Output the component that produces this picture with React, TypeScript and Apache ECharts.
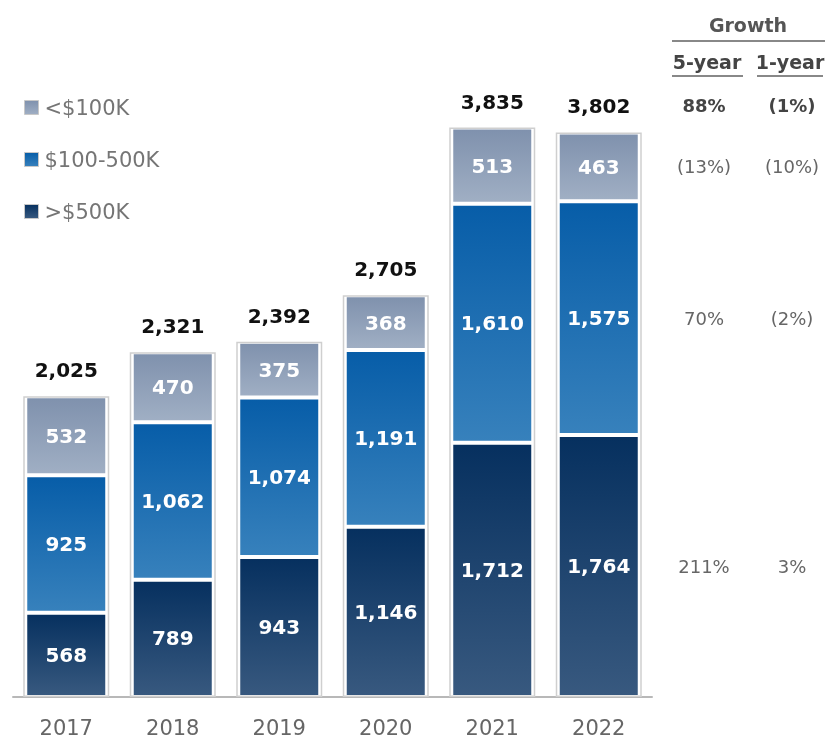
import React, { useEffect, useRef } from "react";
import * as echarts from "echarts";

const years = ["2017", "2018", "2019", "2020", "2021", "2022"];
const under100K = [532, 470, 375, 368, 513, 463];
const mid100to500K = [925, 1062, 1074, 1191, 1610, 1575];
const over500K = [568, 789, 943, 1146, 1712, 1764];
const totals = [2025, 2321, 2392, 2705, 3835, 3802];
const growthHeaders = ["5-year", "1-year"];
const growth5yr = ["88%", "(13%)", "70%", "211%"];
const growth1yr = ["(1%)", "(10%)", "(2%)", "3%"];

const FONT = "DejaVu Sans";

const grad = (top: string, bottom: string) =>
  new echarts.graphic.LinearGradient(0, 0, 0, 1, [
    { offset: 0, color: top },
    { offset: 1, color: bottom },
  ]);

const fmt = (v: number) => v.toLocaleString("en-US");

export default function App() {
  const ref = useRef<HTMLDivElement>(null);
  useEffect(() => {
    if (!ref.current) return;
    const chart = echarts.init(ref.current, undefined, { renderer: "svg" });
    const segLabel = {
      show: true,
      position: "inside" as const,
      color: "#fff",
      fontFamily: FONT,
      fontWeight: "bold" as const,
      fontSize: 20,
      formatter: (p: any) => fmt(p.value),
    };
    const segStyle = (c: any) => ({ color: c, borderColor: "#fff", borderWidth: 2 });
    const option: any = {
      animation: false,
      textStyle: { fontFamily: FONT },
      grid: { left: 13, right: 173, top: 103, bottom: 43 },
      legend: {
        orient: "vertical",
        left: 19,
        top: 92,
        itemGap: 31,
        itemWidth: 14,
        itemHeight: 14,
        icon: "rect",
        data: ["<$100K", "$100-500K", ">$500K"],
        textStyle: { color: "#757575", fontSize: 21, fontFamily: FONT, padding: [0, 0, 0, 1] },
        itemStyle: { borderColor: "#c8c8c8", borderWidth: 1 },
      },
      xAxis: [
        {
          type: "category",
          data: years,
          axisLine: { lineStyle: { color: "#b8b8b8", width: 2 } },
          axisTick: { show: false },
          axisLabel: { color: "#666", fontSize: 21, margin: 20, fontFamily: FONT },
        },
        { type: "category", data: years, show: false },
      ],
      yAxis: { type: "value", min: 0, max: 4000, show: false, splitLine: { show: false } },
      series: [
        {
          name: ">$500K",
          type: "bar",
          stack: "t",
          barWidth: 82,
          data: over500K,
          itemStyle: segStyle(grad("#06305f", "#38597f")),
          label: segLabel,
        },
        {
          name: "$100-500K",
          type: "bar",
          stack: "t",
          data: mid100to500K,
          itemStyle: segStyle(grad("#075da8", "#3781bc")),
          label: segLabel,
        },
        {
          name: "<$100K",
          type: "bar",
          stack: "t",
          data: under100K,
          itemStyle: segStyle(grad("#7f91ad", "#a0afc4")),
          label: segLabel,
        },
        {
          name: "Total",
          type: "bar",
          xAxisIndex: 1,
          barWidth: 86,
          data: totals,
          z: 5,
          itemStyle: { color: "rgba(0,0,0,0)", borderColor: "#cfcfcf", borderWidth: 1.5 },
          label: {
            show: true,
            position: "top",
            distance: 16,
            color: "#111",
            fontFamily: FONT,
            fontWeight: "bold",
            fontSize: 20,
            formatter: (p: any) => fmt(p.value),
          },
        },
      ],
    };
    chart.setOption(option);

    // Growth table, rows aligned with the 2022 segments
    const last = years.length - 1;
    const c1 = 704;
    const c2 = 792;
    const ys = [
      105,
      chart.convertToPixel({ yAxisIndex: 0 }, over500K[last] + mid100to500K[last] + under100K[last] / 2) as number,
      chart.convertToPixel({ yAxisIndex: 0 }, over500K[last] + mid100to500K[last] / 2) as number,
      chart.convertToPixel({ yAxisIndex: 0 }, over500K[last] / 2) as number,
    ];
    const txt = (x: number, y: number, t: string, bold: boolean, color = "#555", size = 18) => ({
      type: "text",
      x,
      y,
      style: {
        text: t,
        fill: color,
        font: `${bold ? "bold " : ""}${size}px "${FONT}"`,
        textAlign: "center",
        textVerticalAlign: "middle",
      },
    });
    const elements: any[] = [
      txt(748, 25, "Growth", true, "#555", 19),
      { type: "line", shape: { x1: 672, y1: 41, x2: 825, y2: 41 }, style: { stroke: "#888", lineWidth: 2 } },
      txt(707, 62, growthHeaders[0], true, "#444", 19),
      txt(790, 62, growthHeaders[1], true, "#444", 19),
      { type: "line", shape: { x1: 672, y1: 76, x2: 743, y2: 76 }, style: { stroke: "#888", lineWidth: 2 } },
      { type: "line", shape: { x1: 757, y1: 76, x2: 823, y2: 76 }, style: { stroke: "#888", lineWidth: 2 } },
    ];
    growth5yr.forEach((g, i) => {
      elements.push(txt(c1, ys[i], g, i === 0, i === 0 ? "#444" : "#666"));
      elements.push(txt(c2, ys[i], growth1yr[i], i === 0, i === 0 ? "#444" : "#666"));
    });
    chart.setOption({ graphic: { elements } });
    return () => chart.dispose();
  }, []);
  return <div ref={ref} style={{ position: "fixed", left: 0, top: 0, width: 825, height: 740 }} />;
}
